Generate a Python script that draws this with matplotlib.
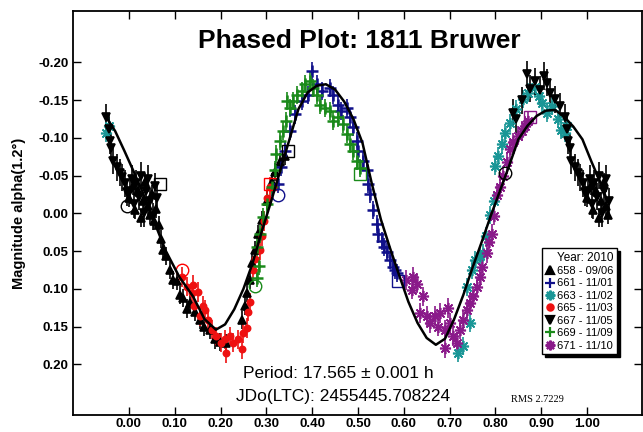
import numpy as np
import matplotlib
matplotlib.use("Agg")
import matplotlib.pyplot as plt
from matplotlib.lines import Line2D

plt.rcParams['font.family'] = ['Liberation Sans', 'DejaVu Sans']
plt.rcParams['axes.unicode_minus'] = False

# --- sessions (phase 0..1, magnitude) ---
ph658 = [0.000, 0.008, 0.014, 0.020, 0.026, 0.031, 0.036, 0.041, 0.046, 0.051, 0.055, 0.060, 0.065,
         0.071, 0.075, 0.082, 0.090, 0.097, 0.104, 0.111, 0.119, 0.126, 0.133, 0.145, 0.155, 0.165,
         0.177, 0.188, 0.198, 0.212, 0.246, 0.253, 0.257, 0.264, 0.268, 0.275, 0.282, 0.290, 0.301,
         0.312, 0.320, 0.330, 0.340]
mag658 = [-0.020, -0.036, -0.004, -0.030, 0.006, -0.016, -0.042, -0.010, 0.002, -0.026, 0.010, -0.006, 0.016,
          0.034, 0.049, 0.057, 0.075, 0.088, 0.090, 0.108, 0.112, 0.126, 0.119, 0.130, 0.141, 0.150,
          0.154, 0.167, 0.170, 0.172, 0.141, 0.123, 0.106, 0.088, 0.066, 0.049, 0.027, 0.009, -0.017,
          -0.041, -0.055, -0.068, -0.076]

ph661 = [0.326, 0.333, 0.341, 0.352, 0.362, 0.377, 0.391, 0.399, 0.410, 0.421, 0.439, 0.446, 0.457,
         0.464, 0.475, 0.483, 0.490, 0.497, 0.501, 0.512, 0.519, 0.523, 0.526, 0.533, 0.541, 0.544,
         0.552, 0.557, 0.563, 0.570, 0.577, 0.581, 0.585]
mag661 = [-0.039, -0.061, -0.083, -0.109, -0.131, -0.149, -0.157, -0.188, -0.171, -0.162, -0.166, -0.157, -0.144,
          -0.136, -0.140, -0.127, -0.114, -0.096, -0.083, -0.070, -0.057, -0.039, -0.026, -0.004, 0.014, 0.027,
          0.036, 0.045, 0.051, 0.062, 0.071, 0.075, 0.079]

ph663 = [0.719, 0.730, 0.745, 0.737, 0.748, 0.756, 0.766, 0.774, 0.780, 0.788, 0.796, 0.799, 0.806,
         0.814, 0.821, 0.832, 0.846, 0.861, 0.872, 0.886, 0.895, 0.901, 0.912, 0.923, 0.937, 0.944,
         0.951, 0.956]
mag663 = [0.185, 0.176, 0.145, 0.097, 0.075, 0.062, 0.057, 0.053, 0.030, 0.002, -0.017, -0.063, -0.076,
          -0.092, -0.107, -0.120, -0.138, -0.151, -0.160, -0.168, -0.155, -0.146, -0.133, -0.142, -0.125, -0.111,
          -0.107, -0.116]

ph665 = [0.117, 0.126, 0.137, 0.140, 0.151, 0.143, 0.155, 0.162, 0.166, 0.173, 0.181, 0.191, 0.200,
         0.210, 0.212, 0.220, 0.228, 0.239, 0.246, 0.250, 0.257, 0.260, 0.264, 0.271, 0.276, 0.286,
         0.290, 0.296, 0.302, 0.308]
mag665 = [0.084, 0.097, 0.106, 0.095, 0.104, 0.123, 0.136, 0.123, 0.128, 0.141, 0.154, 0.163, 0.171,
          0.167, 0.185, 0.163, 0.171, 0.167, 0.180, 0.158, 0.152, 0.130, 0.118, 0.075, 0.060, 0.049,
          0.030, 0.010, -0.020, -0.035]

ph667 = [0.002, 0.006, 0.011, 0.016, 0.021, 0.027, 0.032, 0.037, 0.042, 0.047, 0.052, 0.057, 0.062,
         0.839, 0.846, 0.858, 0.868, 0.875, 0.886, 0.897, 0.905, 0.912, 0.919, 0.930, 0.941, 0.951,
         0.956, 0.959, 0.962, 0.966, 0.973, 0.980, 0.985, 0.991, 0.996]
mag667 = [-0.030, -0.046, -0.012, -0.040, -0.022, -0.050, 0.000, -0.030, -0.046, -0.016, 0.004, -0.036, -0.020,
          -0.133, -0.125, -0.150, -0.184, -0.165, -0.175, -0.164, -0.182, -0.173, -0.160, -0.151, -0.142, -0.127,
          -0.112, -0.096, -0.087, -0.070, -0.061, -0.054, -0.048, -0.040, -0.028]

ph669 = [0.279, 0.283, 0.279, 0.286, 0.293, 0.301, 0.312, 0.319, 0.322, 0.330, 0.337, 0.344, 0.345,
         0.352, 0.359, 0.366, 0.377, 0.384, 0.395, 0.402, 0.410, 0.417, 0.428, 0.439, 0.446, 0.457,
         0.468, 0.475, 0.483, 0.490, 0.498, 0.505]
mag669 = [0.085, 0.070, 0.044, 0.027, 0.005, -0.013, -0.035, -0.057, -0.079, -0.096, -0.109, -0.122, -0.149,
          -0.140, -0.149, -0.157, -0.162, -0.171, -0.175, -0.166, -0.157, -0.144, -0.140, -0.136, -0.122, -0.127,
          -0.118, -0.105, -0.092, -0.083, -0.070, -0.060]

ph671 = [0.605, 0.617, 0.621, 0.628, 0.635, 0.643, 0.650, 0.657, 0.668, 0.675, 0.679, 0.690, 0.690,
         0.697, 0.701, 0.708, 0.716, 0.723, 0.730, 0.737, 0.745, 0.752, 0.759, 0.766, 0.770, 0.781,
         0.785, 0.792, 0.796, 0.803, 0.810, 0.817, 0.825, 0.832, 0.839, 0.850, 0.857, 0.865, 0.872]
mag671 = [0.088, 0.101, 0.084, 0.093, 0.132, 0.110, 0.136, 0.145, 0.136, 0.150, 0.132, 0.154, 0.178,
          0.125, 0.145, 0.163, 0.171, 0.154, 0.141, 0.128, 0.119, 0.110, 0.097, 0.084, 0.071, 0.053,
          0.038, 0.027, 0.003, -0.024, -0.035, -0.050, -0.068, -0.085, -0.094, -0.103, -0.109, -0.116, -0.122]

session_labels = ['658 - 09/06', '661 - 11/01', '663 - 11/02', '665 - 11/03',
                  '667 - 11/05', '669 - 11/09', '671 - 11/10']
session_err = [0.012, 0.012, 0.012, 0.013, 0.018, 0.012, 0.013]

# fourier fit curve
fit_ph = [-0.047, -0.03, -0.01, 0.01, 0.03, 0.05, 0.08, 0.11, 0.14, 0.165, 0.19, 0.21, 0.23, 0.25, 0.27,
          0.29, 0.31, 0.33, 0.35, 0.37, 0.39, 0.41, 0.43, 0.45, 0.47, 0.49, 0.51, 0.53, 0.55, 0.57,
          0.59, 0.61, 0.63, 0.65, 0.67, 0.69, 0.71, 0.73, 0.75, 0.77, 0.79, 0.81, 0.83, 0.85, 0.87,
          0.89, 0.91, 0.93, 0.95, 0.97, 0.99, 1.01, 1.03, 1.045]
fit_mag = [-0.125, -0.109, -0.083, -0.056, -0.028, 0.003, 0.049, 0.084, 0.110, 0.140, 0.154, 0.147, 0.127, 0.100, 0.066,
           0.024, -0.015, -0.056, -0.097, -0.138, -0.160, -0.169, -0.171, -0.164, -0.148, -0.125, -0.093, -0.040, 0.008, 0.046,
           0.082, 0.117, 0.145, 0.165, 0.174, 0.166, 0.140, 0.108, 0.072, 0.038, 0.003, -0.030, -0.063, -0.098, -0.116,
           -0.129, -0.136, -0.137, -0.128, -0.115, -0.098, -0.068, -0.040, -0.015]

# open start/end markers of sessions
mark_x = [0.068, -0.004, 0.348, 0.822, 0.308, 0.115, 0.326, 0.588, 0.504, 0.275, 0.876]
mark_y = [-0.039, -0.010, -0.083, -0.053, -0.039, 0.075, -0.024, 0.090, -0.052, 0.096, -0.127]
mark_shape = ['s', 'o', 's', 'o', 's', 'o', 'o', 's', 's', 'o', 's']
mark_col = ['black', 'black', 'black', 'black', 'red', 'red', '#10108a', '#10108a', '#1a8a1a', '#1a8a1a', '#8a1a8a']

xticks = [0.0, 0.1, 0.2, 0.3, 0.4, 0.5, 0.6, 0.7, 0.8, 0.9, 1.0]
yticks = [-0.20, -0.15, -0.10, -0.05, 0.0, 0.05, 0.10, 0.15, 0.20]

phases = [ph658, ph661, ph663, ph665, ph667, ph669, ph671]
mags = [mag658, mag661, mag663, mag665, mag667, mag669, mag671]
colors = ['black', '#10108a', '#1a9696', '#ee1111', 'black', '#1a8a1a', '#8a1a8a']
markers = ['^', '+', (8, 2, 0), 'o', 'v', '+', (8, 2, 0)]
msizes = [5.5, 9, 8, 4.5, 5.5, 9, 8]


def wrap(ph, mag):
    # phases below 0.05 are repeated after 1, phases above 0.95 before 0
    ph = np.asarray(ph)
    mag = np.asarray(mag)
    lo = ph < 0.05
    hi = ph > 0.95
    return (np.concatenate([ph, ph[lo] + 1, ph[hi] - 1]),
            np.concatenate([mag, mag[lo], mag[hi]]))


fig = plt.figure(figsize=(6.43, 4.32), dpi=100)
ax = fig.add_axes([73 / 643, 17 / 432, 569 / 643, 404 / 432])

for ph, mg, c, m, s, e in zip(phases, mags, colors, markers, msizes, session_err):
    x, y = wrap(ph, mg)
    ax.errorbar(x, y, yerr=e, fmt='none', ecolor=c, elinewidth=1.2, capsize=0, zorder=2)
    ax.plot(x, y, ls='none', marker=m, color=c, ms=s, mew=1.8 if m == '+' else 1.2, zorder=3)

for x, y, s, c in zip(mark_x, mark_y, mark_shape, mark_col):
    ax.plot(x, y, marker=s, ms=9, mfc='none', mec=c, mew=1, ls='none', zorder=4)

ax.plot(fit_ph, fit_mag, color='black', lw=1.8, zorder=5)

ax.set_xlim(-0.122, 1.12)
ax.set_ylim(0.267, -0.268)
ax.set_xticks(xticks)
ax.set_yticks(yticks)
ax.set_xticklabels(['%.2f' % v for v in xticks])
ax.set_yticklabels(['%.2f' % v for v in yticks])
ax.tick_params(direction='in', length=5.5, width=1, top=True, right=True, labelsize=9.5)
ax.tick_params(axis='x', pad=2)
ax.tick_params(axis='y', pad=3)
for lab in ax.get_xticklabels() + ax.get_yticklabels():
    lab.set_fontweight('bold')
for sp in ax.spines.values():
    sp.set_linewidth(1.3)

fig.text(19 / 643, 1 - 213 / 432, 'Magnitude alpha(1.2°)', rotation=90, ha='center', va='center',
         fontsize=10.5, fontweight='bold')
fig.text(359 / 643, 1 - 41 / 432, 'Phased Plot: 1811 Bruwer', ha='center', va='center',
         fontsize=19, fontweight='bold')
fig.text(338 / 643, 1 - 373 / 432, 'Period: 17.565 ± 0.001 h', ha='center', va='center', fontsize=12.5)
fig.text(343 / 643, 1 - 397 / 432, 'JDo(LTC): 2455445.708224', ha='center', va='center', fontsize=12.5)
fig.text(537 / 643, 1 - 399 / 432, 'RMS 2.7229', ha='center', va='center', fontsize=7.5,
         family='Liberation Serif')

handles = [Line2D([], [], ls='none', marker=m, color=c, ms=min(s, 7), mew=1.6)
           for m, c, s in zip(markers, colors, msizes)]
leg = ax.legend(handles, session_labels, title='Year: 2010', loc='lower right',
                bbox_to_anchor=((617 - 73) / 569, (417 - 356) / 404), borderaxespad=0,
                fontsize=8, title_fontsize=8.5, handlelength=0.8, handletextpad=0.3,
                labelspacing=0.22, borderpad=0.3, fancybox=False, framealpha=1,
                edgecolor='black', shadow={'color': 'black', 'alpha': 1}, alignment='right')
leg.get_frame().set_linewidth(1)

fig.savefig('out.png', dpi=100)
